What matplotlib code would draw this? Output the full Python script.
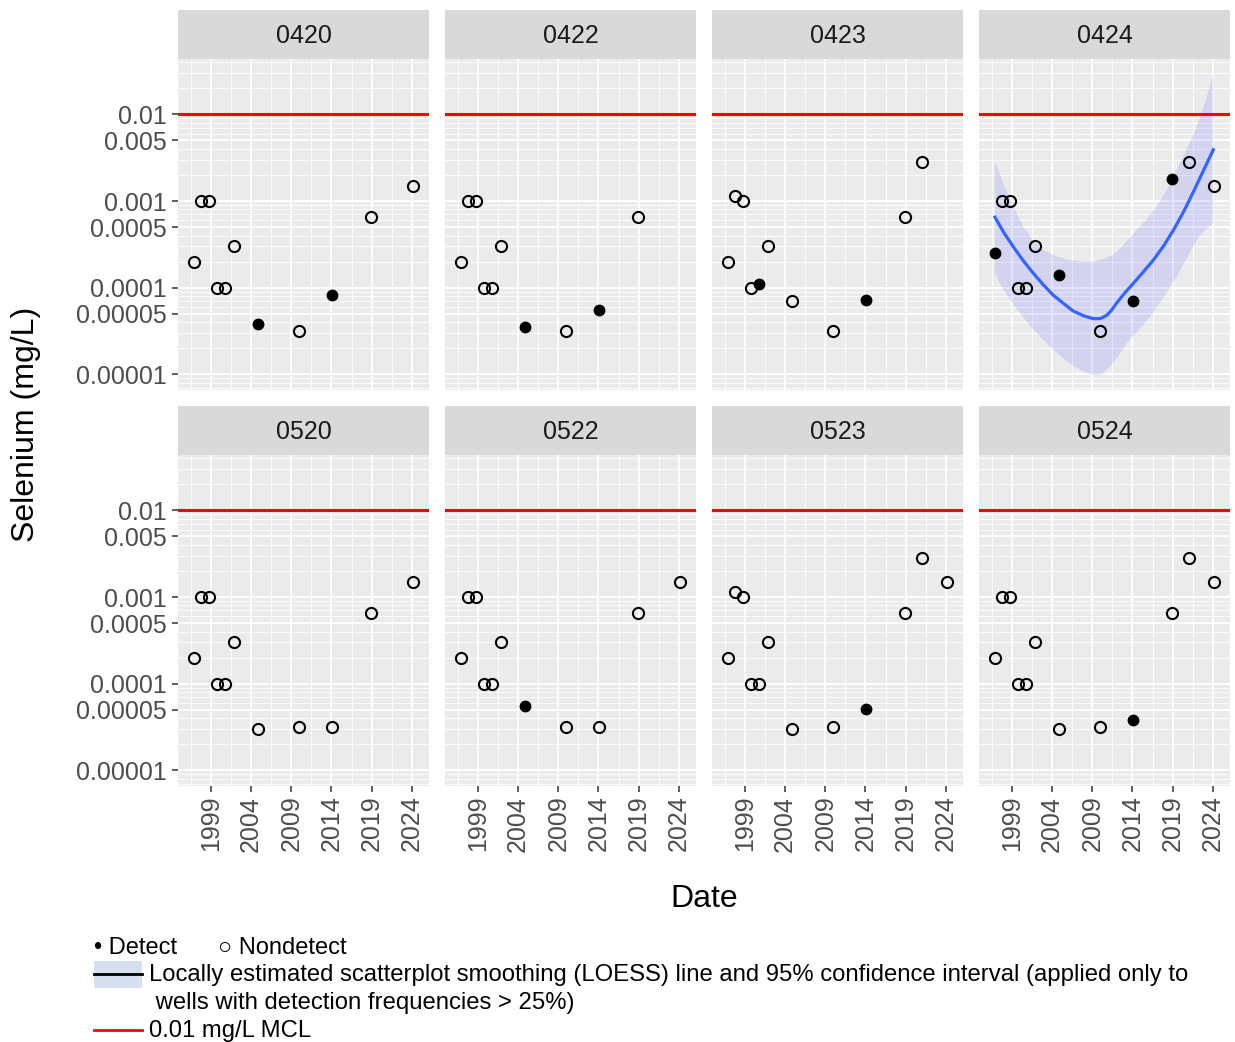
import numpy as np
import matplotlib
matplotlib.use("Agg")
import matplotlib.pyplot as plt
from matplotlib.ticker import FixedLocator, NullFormatter

plt.rcParams['font.family'] = ['Liberation Sans', 'DejaVu Sans']

# sampling dates (decimal years), shared by all wells
dates = [1996.9, 1997.8, 1998.8, 1999.7, 2000.75, 2001.85,
         2004.9, 2009.9, 2014.05, 2018.95, 2021.0, 2024.1]

nan = np.nan
wells = ["0420", "0422", "0423", "0424", "0520", "0522", "0523", "0524"]

se_0420 = [2e-4, 1e-3, 1e-3, 1e-4, 1e-4, 3e-4, 3.8e-5, 3.2e-5, 8.2e-5, 6.5e-4, nan, 1.5e-3]
se_0422 = [2e-4, 1e-3, 1e-3, 1e-4, 1e-4, 3e-4, 3.5e-5, 3.2e-5, 5.6e-5, 6.5e-4, nan, nan]
se_0423 = [2e-4, 1.13e-3, 1e-3, 1e-4, 1.1e-4, 3e-4, 7e-5, 3.2e-5, 7.3e-5, 6.5e-4, 2.8e-3, nan]
se_0424 = [2.5e-4, 1e-3, 1e-3, 1e-4, 1e-4, 3e-4, 1.4e-4, 3.2e-5, 7.1e-5, 1.8e-3, 2.8e-3, 1.5e-3]
se_0520 = [2e-4, 1e-3, 1e-3, 1e-4, 1e-4, 3e-4, 3e-5, 3.2e-5, 3.2e-5, 6.5e-4, nan, 1.5e-3]
se_0522 = [2e-4, 1e-3, 1e-3, 1e-4, 1e-4, 3e-4, 5.6e-5, 3.2e-5, 3.2e-5, 6.5e-4, nan, 1.5e-3]
se_0523 = [2e-4, 1.13e-3, 1e-3, 1e-4, 1e-4, 3e-4, 3e-5, 3.2e-5, 5.1e-5, 6.5e-4, 2.8e-3, 1.5e-3]
se_0524 = [2e-4, 1e-3, 1e-3, 1e-4, 1e-4, 3e-4, 3e-5, 3.2e-5, 3.85e-5, 6.5e-4, 2.8e-3, 1.5e-3]

# 1 = detect, 0 = nondetect
det_0420 = [0, 0, 0, 0, 0, 0, 1, 0, 1, 0, 0, 0]
det_0422 = [0, 0, 0, 0, 0, 0, 1, 0, 1, 0, 0, 0]
det_0423 = [0, 0, 0, 0, 1, 0, 0, 0, 1, 0, 0, 0]
det_0424 = [1, 0, 0, 0, 0, 0, 1, 0, 1, 1, 0, 0]
det_0520 = [0, 0, 0, 0, 0, 0, 0, 0, 0, 0, 0, 0]
det_0522 = [0, 0, 0, 0, 0, 0, 1, 0, 0, 0, 0, 0]
det_0523 = [0, 0, 0, 0, 0, 0, 0, 0, 1, 0, 0, 0]
det_0524 = [0, 0, 0, 0, 0, 0, 0, 0, 1, 0, 0, 0]

values = [se_0420, se_0422, se_0423, se_0424, se_0520, se_0522, se_0523, se_0524]
detects = [det_0420, det_0422, det_0423, det_0424, det_0520, det_0522, det_0523, det_0524]

# LOESS fit and 95% band for well 0424
loess_x = [1996.88, 1998.0, 1999.16, 2000.4, 2001.65, 2002.9, 2004.14, 2005.4,
           2006.6, 2007.9, 2009.1, 2010.0, 2010.8, 2011.4, 2012.0, 2013.0,
           2014.1, 2015.3, 2016.6, 2017.9, 2019.1, 2020.4, 2021.6, 2022.8, 2024.07]
loess_y = [6.5e-4, 4.3e-4, 2.97e-4, 2.05e-4, 1.47e-4, 1.08e-4, 8.2e-5, 6.6e-5,
           5.4e-5, 4.75e-5, 4.4e-5, 4.4e-5, 4.8e-5, 5.5e-5, 6.6e-5, 8.6e-5,
           1.12e-4, 1.5e-4, 2.08e-4, 3.05e-4, 4.6e-4, 7.6e-4, 1.28e-3, 2.2e-3, 3.9e-3]
upper_x = [1996.88, 1997.92, 1999.16, 2000.41, 2001.6, 2002.9, 2004.5, 2006.2,
           2007.6, 2009.1, 2010.4, 2011.6, 2013.0, 2014.5, 2015.8, 2017.0,
           2018.3, 2019.5, 2020.8, 2022.0, 2023.1, 2024.07]
upper_y = [2.84e-3, 1.6e-3, 8.6e-4, 5.06e-4, 3.5e-4, 2.72e-4, 2.3e-4, 2.08e-4,
           2.0e-4, 2.0e-4, 2.15e-4, 2.38e-4, 3.2e-4, 4.6e-4, 6.2e-4, 8.6e-4,
           1.35e-3, 2.28e-3, 4.0e-3, 7.2e-3, 1.4e-2, 2.97e-2]
lower_x = [1996.88, 1997.92, 2000.0, 2001.4, 2002.9, 2004.5, 2006.2, 2007.7,
           2009.1, 2010.2, 2011.2, 2012.3, 2013.3, 2014.7, 2016.2, 2017.9,
           2019.5, 2021.0, 2022.0, 2023.0, 2024.07]
lower_y = [1.47e-4, 9.4e-5, 5.07e-5, 3.5e-5, 2.5e-5, 1.8e-5, 1.34e-5, 1.1e-5,
           9.8e-6, 1.0e-5, 1.23e-5, 1.65e-5, 2.29e-5, 3.2e-5, 4.6e-5, 7.8e-5,
           1.34e-4, 2.4e-4, 3.55e-4, 4.6e-4, 5.5e-4]

mcl = 0.01
y_breaks = [1e-5, 5e-5, 1e-4, 5e-4, 1e-3, 5e-3, 1e-2]
y_labels = ["0.00001", "0.00005", "0.0001", "0.0005", "0.001", "0.005", "0.01"]
x_breaks = [1999, 2004, 2009, 2014, 2019, 2024]

W, H = 1235, 1042
fig = plt.figure(figsize=(W / 100, H / 100), dpi=100)


def fig_rect(x0, y0, x1, y1):
    return [x0 / W, 1 - y1 / H, (x1 - x0) / W, (y1 - y0) / H]


col_x = [178, 445, 712, 979]
pan_w = 251
row_y = [(10, 59, 390), (406, 455, 786)]

xlim = (1994.89, 2026.15)
ylim = (10 ** -5.18, 10 ** -1.362)

minor_y = [k * 10.0 ** e for e in range(-6, -1) for k in range(1, 10)]
minor_y = [v for v in minor_y if v not in y_breaks]
minor_x = [b - 2.5 for b in x_breaks] + [2026.5]

for i, well in enumerate(wells):
    r, c = divmod(i, 4)
    s0, p0, p1 = row_y[r]
    x0 = col_x[c]

    ax = fig.add_axes(fig_rect(x0, p0, x0 + pan_w, p1))
    ax.set_facecolor("#EBEBEB")
    ax.set_yscale("log")
    ax.set_xlim(*xlim)
    ax.set_ylim(*ylim)
    for sp in ax.spines.values():
        sp.set_visible(False)

    # grid
    for v in minor_y:
        ax.axhline(v, color="white", lw=0.6, zorder=0)
    for v in y_breaks:
        ax.axhline(v, color="white", lw=1.3, zorder=0)
    for v in minor_x:
        ax.axvline(v, color="white", lw=0.6, zorder=0)
    for v in x_breaks:
        ax.axvline(v, color="white", lw=1.3, zorder=0)

    ax.axhline(mcl, color="red", lw=2.2, zorder=2)

    if well == "0424":
        fx = np.r_[upper_x, lower_x[::-1]]
        fy = np.r_[upper_y, lower_y[::-1]]
        ax.fill(fx, fy, color="blue", alpha=0.1, lw=0, zorder=1)
        ax.plot(loess_x, loess_y, color="#3366FF", lw=2.3, zorder=3,
                solid_joinstyle="round")

    vals = np.array(values[i], dtype=float)
    det = np.array(detects[i], dtype=bool)
    d = np.array(dates)
    ax.plot(d[~det], vals[~det], "o", ms=8, mfc="none", mec="black",
            mew=1.5, zorder=4)
    ax.plot(d[det], vals[det], "o", ms=7.5, mfc="black", mec="black",
            mew=1, zorder=4)

    ax.yaxis.set_major_locator(FixedLocator(y_breaks))
    ax.yaxis.set_minor_locator(FixedLocator([]))
    ax.xaxis.set_major_locator(FixedLocator(x_breaks))
    ax.tick_params(which="both", length=0, colors="#333333",
                   labelcolor="#4D4D4D", labelsize=18)
    if c == 0:
        ax.set_yticklabels(y_labels)
        ax.tick_params(axis="y", length=4, width=1.1, pad=4)
    else:
        ax.yaxis.set_major_formatter(NullFormatter())
    if r == 1:
        ax.set_xticklabels([str(b) for b in x_breaks], rotation=90)
        ax.tick_params(axis="x", length=4, width=1.1, pad=3)
    else:
        ax.xaxis.set_major_formatter(NullFormatter())

    # facet strip
    sax = fig.add_axes(fig_rect(x0, s0, x0 + pan_w, p0))
    sax.set_facecolor("#D9D9D9")
    sax.set_xticks([])
    sax.set_yticks([])
    for sp in sax.spines.values():
        sp.set_visible(False)
    sax.text(0.5, 0.47, well, ha="center", va="center", fontsize=18,
             color="#1A1A1A", transform=sax.transAxes)

# axis titles
fig.text(26 / W, 1 - 424 / H, "Selenium (mg/L)", rotation=90, ha="center",
         va="center", fontsize=23)
fig.text(704 / W, 1 - 899 / H, "Date", ha="center", va="center", fontsize=23)


# legend drawn in figure pixels
def fy(y):
    return 1 - y / H


fig.text(94 / W, fy(948), "\u2022 Detect", ha="left", va="center", fontsize=17)
fig.text(218 / W, fy(948), "\u25CB Nondetect", ha="left", va="center", fontsize=17)

fig.patches.append(plt.Rectangle((94 / W, fy(988)), 48 / W, 27 / H,
                                 transform=fig.transFigure,
                                 facecolor="#D5DFEE", edgecolor="none"))
fig.lines.append(plt.Line2D([94 / W, 142 / W], [fy(974), fy(974)],
                            transform=fig.transFigure, color="black", lw=2))
fig.text(149 / W, fy(975),
         "Locally estimated scatterplot smoothing (LOESS) line and 95% "
         "confidence interval (applied only to",
         ha="left", va="center", fontsize=17.2)
fig.text(149 / W, fy(1003), " wells with detection frequencies > 25%)",
         ha="left", va="center", fontsize=17.2)
fig.lines.append(plt.Line2D([94 / W, 142 / W], [fy(1030), fy(1030)],
                            transform=fig.transFigure, color="red", lw=2))
fig.text(149 / W, fy(1031), "0.01 mg/L MCL", ha="left", va="center", fontsize=17.2)

fig.savefig("out.png", dpi=100)
